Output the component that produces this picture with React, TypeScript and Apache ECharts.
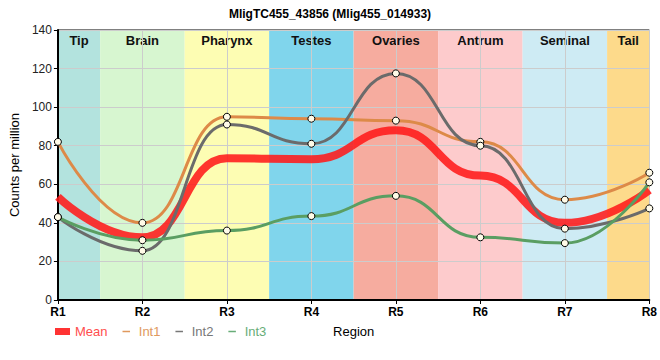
import React, { useEffect, useRef } from "react";
import * as echarts from "echarts";

const regions = ["R1", "R2", "R3", "R4", "R5", "R6", "R7", "R8"];
const bandNames = ["Tip", "Brain", "Pharynx", "Testes", "Ovaries", "Antrum", "Seminal", "Tail"];
const bandColors = ["#b3e3de", "#d7f6d0", "#fdfdb3", "#80d5ec", "#f6ac9f", "#fdcbcc", "#ceebf4", "#fdda8b"];
const meanValues = [53.5, 32.5, 73.5, 73, 88, 64.5, 40, 57];
const int1Values = [82, 40, 95, 94, 93, 82, 52, 66];
const int2Values = [43, 25.5, 91, 81, 117.5, 80, 37, 47.5];
const int3Values = [43, 31, 36, 43.5, 54, 32.5, 29.5, 61];
const yTicks = { min: 0, max: 140, interval: 20 };

const FONT = "Liberation Sans, Arial, sans-serif";

function pairs(vals: number[]) {
  return vals.map((v, i) => [i + 1, v]);
}

export default function App() {
  const ref = useRef<HTMLDivElement>(null);
  useEffect(() => {
    if (!ref.current) return;
    const chart = echarts.init(ref.current, null, { renderer: "svg" });
    const bandData = bandNames.map((n, i) => [
      {
        name: n,
        xAxis: Math.max(1, i + 0.5),
        itemStyle: { color: bandColors[i], opacity: 1 },
      },
      { xAxis: Math.min(8, i + 1.5) },
    ]);
    const lineSeries = (name: string, vals: number[], color: string, width: number, sym: boolean, opacity = 1) => ({
      name,
      type: "line",
      data: pairs(vals),
      smooth: 0.5,
      smoothMonotone: "x",
      z: 3,
      showSymbol: sym,
      symbol: sym ? "circle" : "none",
      symbolSize: 7,
      itemStyle: { color: "#fffbe8", borderColor: "#000", borderWidth: 1 },
      lineStyle: { color, width, opacity },
      emphasis: { disabled: true },
    });
    const lineIcon = "path://M0,0 L0.01,0 L0,0.01 Z M0,5.5 L15,5.5 L15,8.5 L0,8.5 Z M15,14 L14.99,14 L15,13.99 Z";
    chart.setOption({
      animation: false,
      textStyle: { fontFamily: FONT },
      title: {
        text: "MligTC455_43856 (Mlig455_014933)",
        left: "center",
        top: 3,
        textStyle: { fontSize: 12, fontWeight: "bold", color: "#000", fontFamily: FONT },
      },
      legend: {
        left: 50,
        top: 320,
        itemWidth: 15,
        itemHeight: 7,
        itemGap: 15,
        textStyle: { fontSize: 13, fontFamily: FONT },
        data: [
          { name: "Mean", icon: "rect", itemStyle: { color: "#ff3333", borderWidth: 0 }, textStyle: { color: "#ff4d4d" } },
          { name: "Int1", icon: lineIcon, itemStyle: { color: "#e0995e", borderWidth: 0 }, textStyle: { color: "#e0995e" } },
          { name: "Int2", icon: lineIcon, itemStyle: { color: "#777777", borderWidth: 0 }, textStyle: { color: "#777777" } },
          { name: "Int3", icon: lineIcon, itemStyle: { color: "#68ad78", borderWidth: 0 }, textStyle: { color: "#68ad78" } },
        ],
      },
      grid: {
        left: 50,
        right: 10,
        top: 30,
        bottom: 60,
        show: true,
        borderColor: "#000",
        borderWidth: 1,
        backgroundColor: "transparent",
      },
      xAxis: {
        type: "value",
        min: 1,
        max: 8,
        interval: 1,
        z: 2,
        name: "Region",
        nameLocation: "middle",
        nameGap: 25,
        nameTextStyle: { fontSize: 13, color: "#000", fontFamily: FONT },
        axisLine: { lineStyle: { color: "#000", width: 2 } },
        axisTick: { show: true, length: 4, lineStyle: { color: "#000" } },
        axisLabel: {
          formatter: (v: number) => regions[v - 1] ?? "",
          fontSize: 12,
          fontWeight: "bold",
          color: "#000",
          margin: 6,
          fontFamily: FONT,
        },
        splitLine: { show: true, lineStyle: { color: "#cccccc", width: 1 } },
      },
      yAxis: {
        type: "value",
        min: yTicks.min,
        max: yTicks.max,
        interval: yTicks.interval,
        z: 2,
        name: "Counts per million",
        nameLocation: "middle",
        nameGap: 34,
        nameTextStyle: { fontSize: 13, color: "#000", fontFamily: FONT },
        axisLine: { show: true, lineStyle: { color: "#000", width: 2 } },
        axisTick: { show: true, length: 4, lineStyle: { color: "#000" } },
        axisLabel: { fontSize: 12, color: "#222", margin: 6, fontFamily: FONT },
        splitLine: { show: true, lineStyle: { color: "#cccccc", width: 1 } },
      },
      series: [
        {
          name: "bands",
          type: "line",
          data: [],
          z: 1,
          silent: true,
          markArea: {
            silent: true,
            label: {
              show: true,
              position: "insideTop",
              distance: 4,
              fontSize: 13,
              fontWeight: "bold",
              color: "#111",
              fontFamily: FONT,
            },
            data: bandData,
          },
        },
        lineSeries("Mean", meanValues, "#ff1a1a", 8, false, 0.88),
        lineSeries("Int1", int1Values, "#dd8a48", 3, true),
        lineSeries("Int2", int2Values, "#6b6b6b", 3, true),
        lineSeries("Int3", int3Values, "#5a9e62", 3, true),
      ],
    });
    return () => chart.dispose();
  }, []);
  return (
    <div
      ref={ref}
      style={{ position: "absolute", left: 0, top: 0, width: 660, height: 360 }}
    />
  );
}
